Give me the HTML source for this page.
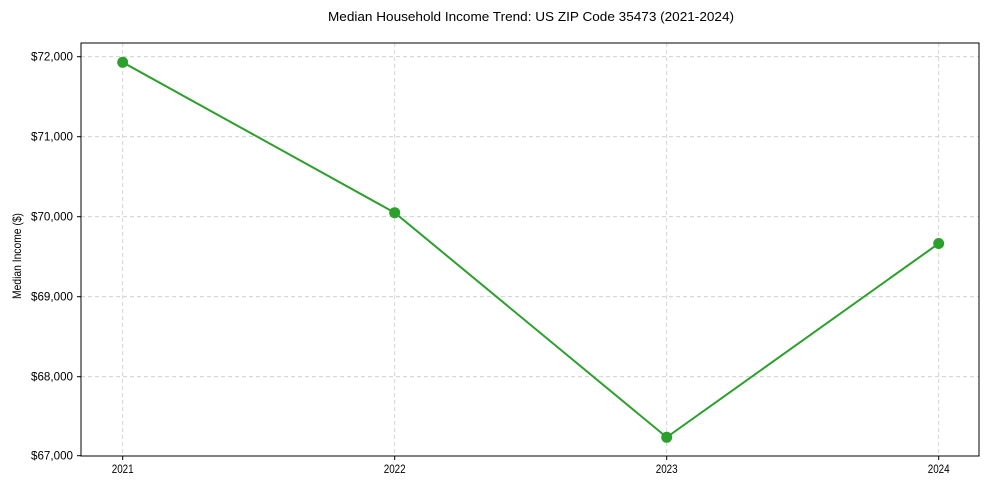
<!DOCTYPE html>
<html><head><meta charset="utf-8"><style>body{margin:0;background:#fff}svg{display:block}text{font-family:"Liberation Sans",sans-serif;fill:#000}</style></head><body>
<svg width="989" height="490" xmlns="http://www.w3.org/2000/svg">
<rect width="989" height="490" fill="#fff"/>
<text x="531" y="21" font-size="13" text-anchor="middle" textLength="406" lengthAdjust="spacingAndGlyphs">Median Household Income Trend: US ZIP Code 35473 (2021-2024)</text>
<g stroke="#ccc" stroke-width="0.8" stroke-dasharray="4,3">
<line x1="81" x2="979" y1="56.7" y2="56.7"/><line x1="81" x2="979" y1="136.7" y2="136.7"/><line x1="81" x2="979" y1="216.7" y2="216.7"/><line x1="81" x2="979" y1="296.7" y2="296.7"/><line x1="81" x2="979" y1="376.7" y2="376.7"/>
<line x1="122.7" x2="122.7" y1="43" y2="456"/><line x1="394.7" x2="394.7" y1="43" y2="456"/><line x1="666.7" x2="666.7" y1="43" y2="456"/><line x1="938.7" x2="938.7" y1="43" y2="456"/>
</g>
<rect x="81" y="43" width="898" height="413" fill="none" stroke="#000" stroke-width="1"/>
<g stroke="#000" stroke-width="1">
<line x1="77" x2="81" y1="56.7" y2="56.7"/><line x1="77" x2="81" y1="136.7" y2="136.7"/><line x1="77" x2="81" y1="216.7" y2="216.7"/><line x1="77" x2="81" y1="296.7" y2="296.7"/><line x1="77" x2="81" y1="376.7" y2="376.7"/><line x1="77" x2="81" y1="455.7" y2="455.7"/>
<line x1="122.7" x2="122.7" y1="456" y2="460"/><line x1="394.7" x2="394.7" y1="456" y2="460"/><line x1="666.7" x2="666.7" y1="456" y2="460"/><line x1="938.7" x2="938.7" y1="456" y2="460"/>
</g>
<g font-size="12" text-anchor="end">
<text x="73" y="60.7" textLength="42" lengthAdjust="spacingAndGlyphs">$72,000</text>
<text x="73" y="140.7" textLength="42" lengthAdjust="spacingAndGlyphs">$71,000</text>
<text x="73" y="220.7" textLength="42" lengthAdjust="spacingAndGlyphs">$70,000</text>
<text x="73" y="300.7" textLength="42" lengthAdjust="spacingAndGlyphs">$69,000</text>
<text x="73" y="380.7" textLength="42" lengthAdjust="spacingAndGlyphs">$68,000</text>
<text x="73" y="459.7" textLength="42" lengthAdjust="spacingAndGlyphs">$67,000</text>
</g>
<g font-size="12" text-anchor="middle">
<text x="122.7" y="473" textLength="22" lengthAdjust="spacingAndGlyphs">2021</text><text x="394.7" y="473" textLength="22" lengthAdjust="spacingAndGlyphs">2022</text><text x="666.7" y="473" textLength="22" lengthAdjust="spacingAndGlyphs">2023</text><text x="938.7" y="473" textLength="22" lengthAdjust="spacingAndGlyphs">2024</text>
</g>
<text transform="translate(21 256) rotate(-90)" font-size="12" text-anchor="middle" textLength="86" lengthAdjust="spacingAndGlyphs">Median Income ($)</text>
<polyline points="122.7,62.3 394.7,212.7 666.7,437.3 938.7,243.5" fill="none" stroke="#2ca02c" stroke-width="2"/>
<g fill="#2ca02c"><circle cx="122.7" cy="62.3" r="5.5"/><circle cx="394.7" cy="212.7" r="5.5"/><circle cx="666.7" cy="437.3" r="5.5"/><circle cx="938.7" cy="243.5" r="5.5"/></g>
</svg>
</body></html>
